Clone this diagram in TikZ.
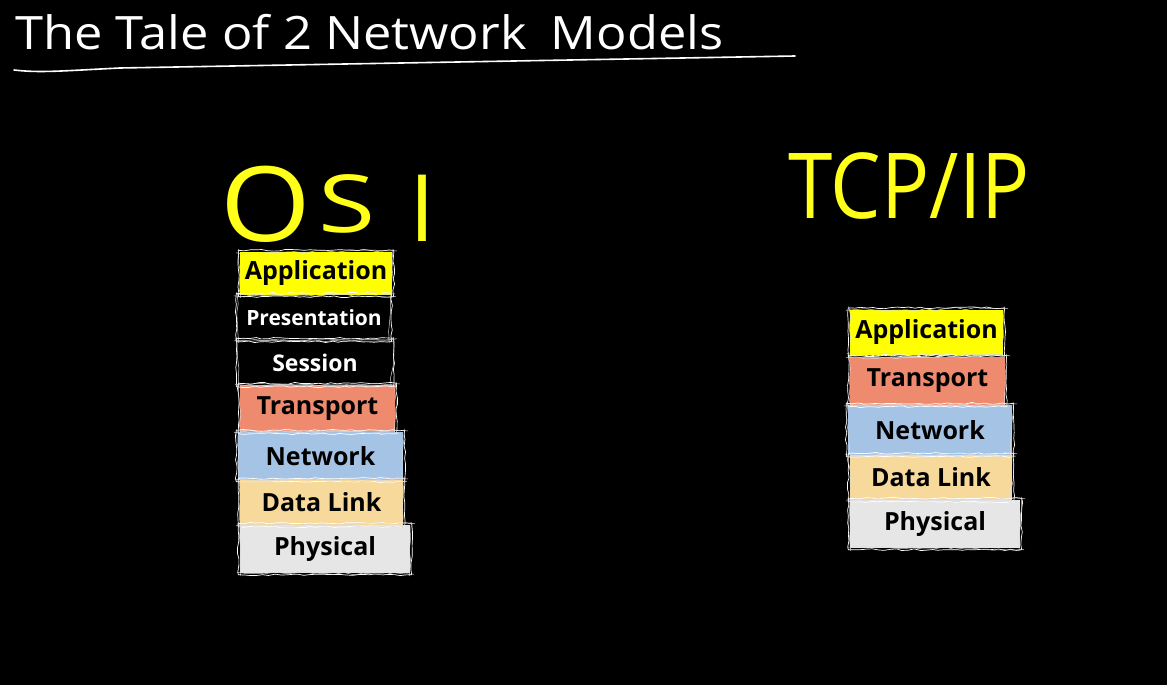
\documentclass[tikz,border=0pt]{standalone}
\usepackage{fontspec}
\setmainfont{Open Sans}
\usetikzlibrary{decorations.pathmorphing}
\definecolor{appY}{HTML}{FFFF00}
\definecolor{trans}{HTML}{EE8A6E}
\definecolor{netw}{HTML}{A5C4E5}
\definecolor{dlink}{HTML}{F6D99B}
\definecolor{phys}{HTML}{E6E6E6}
\definecolor{hand}{HTML}{FFFF1A}
\begin{document}
\begin{tikzpicture}[x=1pt,y=-1pt,
  layer/.style={inner sep=0pt, font=\fontsize{25}{30}\selectfont\bfseries, text=black},
  darklayer/.style={layer, fill=black, text=white},
  sketch/.style={draw=white, line width=0.7pt, line join=round, decorate,
    decoration={random steps, segment length=6pt, amplitude=0.9pt}},
  sketchb/.style={draw=white!85!black, line width=0.5pt, line join=round, decorate,
    decoration={random steps, segment length=10pt, amplitude=1.4pt}},
  handtitle/.style={inner sep=0pt, anchor=base west, text=white, font=\fontsize{46}{50}\selectfont},
  handyellow/.style={inner sep=0pt, anchor=base west, text=hand}]
\pgfmathsetseed{7}
\fill[black] (0,0) rectangle (1167,685);
\useasboundingbox (0,0) rectangle (1167,685);

% title
\node[handtitle] (title) at (15,49) {\scalebox{1.1}[1]{The Tale of 2 Network\hspace{10pt} Models}};
\draw[white, line width=1.6pt, line cap=round] (14,70) .. controls (40,73) and (60,71) .. (120,68) -- (795,56);

% headings
\node[handyellow] (osi) at (220,241) {\scalebox{1.12}[1]{\fontsize{104}{108}\selectfont O}\hspace{8pt}\raisebox{9pt}{\scalebox{1.3}[1]{\fontsize{80}{84}\selectfont S}}\hspace{34pt}{\fontsize{93}{96}\selectfont I}};
\node[handyellow, font=\fontsize{91}{100}\selectfont] (tcp) at (788,218) {\scalebox{0.88}[1]{TCP/IP}};

% OSI stack
\node[layer, fill=appY, minimum width=152pt, minimum height=43pt] (osiApp) at (316,273.5) {Application};
\node[darklayer, minimum width=152pt, minimum height=45pt, font=\fontsize{21}{25}\selectfont\bfseries] (osiPres) at (314,317.5) {Presentation};
\node[darklayer, minimum width=154pt, minimum height=45pt, font=\fontsize{23}{27}\selectfont\bfseries] (osiSes) at (315,362.5) {Session};
\node[layer, fill=trans, minimum width=155pt, minimum height=47pt] (osiTr) at (317.5,408.5) {Transport};
\node[layer, fill=netw, minimum width=165pt, minimum height=48pt] (osiNet) at (320.5,456) {Network};
\node[layer, fill=dlink, minimum width=163pt, minimum height=45pt] (osiDL) at (321.5,502.5) {Data Link};
\node[layer, fill=phys, minimum width=170pt, minimum height=48pt] (osiPh) at (325,549) {Physical};

% TCP/IP stack
\node[layer, fill=appY, minimum width=153pt, minimum height=45pt] (tcpApp) at (926.5,332) {Application};
\node[layer, fill=trans, minimum width=155pt, minimum height=48pt] (tcpTr) at (927.5,381) {Transport};
\node[layer, fill=netw, minimum width=164pt, minimum height=50pt] (tcpNet) at (930,430) {Network};
\node[layer, fill=dlink, minimum width=162pt, minimum height=45pt] (tcpDL) at (931,477.5) {Data Link};
\node[layer, fill=phys, minimum width=170pt, minimum height=48pt] (tcpPh) at (935,524) {Physical};

% sketchy outlines
\foreach \n in {osiApp,osiPres,osiSes,osiTr,osiNet,osiDL,osiPh,tcpApp,tcpTr,tcpNet,tcpDL,tcpPh}{
  \draw[sketch] ([shift={(-1.5,-1.5)}]\n.north west) rectangle ([shift={(1.5,1.5)}]\n.south east);
  \draw[sketchb] ([shift={(-4,1)}]\n.north west) -- ([shift={(5,-1)}]\n.north east)
                 ([shift={(1,-3)}]\n.north east) -- ([shift={(-1,3)}]\n.south east)
                 ([shift={(4,1)}]\n.south east) -- ([shift={(-3,-1)}]\n.south west)
                 ([shift={(1,3)}]\n.south west) -- ([shift={(-1,-3)}]\n.north west);
}
\end{tikzpicture}
\end{document}
